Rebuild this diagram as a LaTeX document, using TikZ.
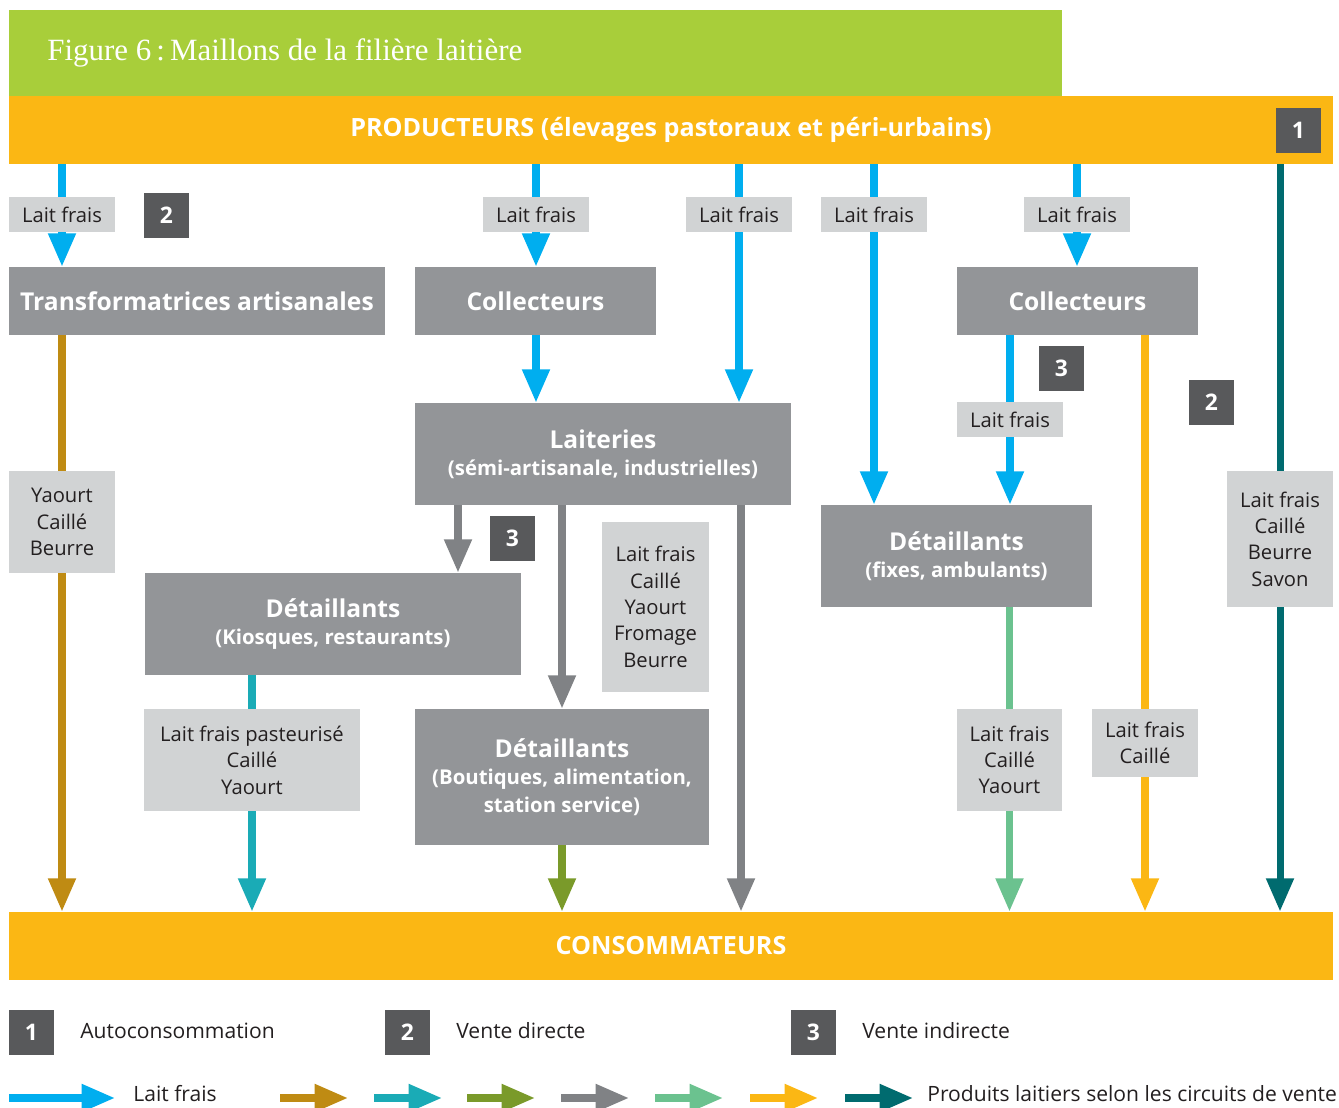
\documentclass[tikz,border=0pt]{standalone}
\usepackage{fontspec}
\setmainfont{Open Sans}
\newfontfamily\serifhead{Liberation Serif}
\usepackage{tikz}
\usetikzlibrary{arrows.meta,backgrounds}

\definecolor{bandgreen}{HTML}{A8CE3A}
\definecolor{bandorange}{HTML}{FBB714}
\definecolor{boxgray}{HTML}{939598}
\definecolor{taggray}{HTML}{D1D3D4}
\definecolor{badgegray}{HTML}{58595B}
\definecolor{inkdark}{HTML}{231F20}
\definecolor{milkblue}{HTML}{00AEEF}
\definecolor{ochre}{HTML}{BF8B13}
\definecolor{lightteal}{HTML}{1AABB6}
\definecolor{olivegreen}{HTML}{7A9A2A}
\definecolor{arrowgray}{HTML}{808285}
\definecolor{mint}{HTML}{6BC28F}
\definecolor{darkteal}{HTML}{006B6F}

\newcommand{\subline}[1]{{\fontsize{11.6}{15}\selectfont #1}}

\begin{document}
\begin{tikzpicture}[x=0.02cm,y=-0.02cm,
  bar/.style={fill=bandorange, text=white, font=\bfseries\fontsize{14.3}{16}\selectfont,
    minimum width=26.48cm, minimum height=1.36cm, inner sep=0pt},
  actor/.style={fill=boxgray, text=white, font=\bfseries\fontsize{14}{15.5}\selectfont,
    align=center, inner sep=0pt, minimum height=1.36cm},
  tag/.style={fill=taggray, text=inkdark, font=\fontsize{11.5}{15}\selectfont,
    align=center, inner sep=0pt, minimum width=2.12cm, minimum height=0.7cm},
  badge/.style={fill=badgegray, text=white, font=\bfseries\fontsize{13}{13}\selectfont,
    minimum size=0.9cm, inner sep=0pt},
  legend/.style={anchor=west, text=inkdark, font=\fontsize{12}{14}\selectfont, inner sep=0pt},
  flow/.style={draw=#1, line width=4pt, -{Triangle[length=19pt,width=15pt]}}]
\useasboundingbox (0,0) rectangle (1339,1108);

% bandeaux
\node[fill=bandgreen, anchor=north west, minimum width=21.06cm, minimum height=1.72cm,
  inner sep=0pt] (band) at (9,10) {};
\node[anchor=west, text=white, font=\serifhead\fontsize{17.6}{20}\selectfont, inner sep=0pt]
  (title) at (47,53) {Figure 6\,:\,Maillons de la filière laitière};
\node[bar] (prod) at (671,130) {PRODUCTEURS (élevages pastoraux et péri-urbains)};
\node[bar] (cons) at (671,946) {CONSOMMATEURS};

% maillons
\node[actor, minimum width=7.52cm] (trans) at (197,301) {Transformatrices artisanales};
\node[actor, minimum width=4.82cm] (coll1) at (535.5,301) {Collecteurs};
\node[actor, minimum width=4.82cm] (coll2) at (1077.5,301) {Collecteurs};
\node[actor, minimum width=7.52cm, minimum height=2.04cm] (lait) at (603,454)
  {Laiteries\\\subline{(sémi-artisanale, industrielles)}};
\node[actor, minimum width=7.52cm, minimum height=2.04cm] (detK) at (333,624)
  {Détaillants\\\subline{(Kiosques, restaurants)}};
\node[actor, minimum width=5.88cm, minimum height=2.72cm] (detB) at (562,777)
  {Détaillants\\\subline{(Boutiques, alimentation,}\\\subline{station service)}};
\node[actor, minimum width=5.42cm, minimum height=2.04cm] (detF) at (956.5,556)
  {Détaillants\\\subline{(fixes, ambulants)}};

% produits
\node[tag] (l1) at (62,214.5) {Lait frais};
\node[tag] (l2) at (536,214.5) {Lait frais};
\node[tag] (l3) at (739,214.5) {Lait frais};
\node[tag] (l4) at (874,214.5) {Lait frais};
\node[tag] (l5) at (1077,214.5) {Lait frais};
\node[tag] (l6) at (1010,419.5) {Lait frais};
\node[tag, minimum height=2.04cm] (p1) at (62,522) {Yaourt\\Caillé\\Beurre};
\node[tag, minimum width=4.32cm, minimum height=2.04cm] (p2) at (252,760)
  {Lait frais pasteurisé\\Caillé\\Yaourt};
\node[tag, minimum width=2.14cm, minimum height=3.4cm] (p3) at (655.5,607)
  {Lait frais\\Caillé\\Yaourt\\Fromage\\Beurre};
\node[tag, minimum width=2.1cm, minimum height=2.04cm] (p4) at (1009.5,760)
  {Lait frais\\Caillé\\Yaourt};
\node[tag, minimum height=1.36cm] (p5) at (1145,743) {Lait frais\\Caillé};
\node[tag, minimum height=2.72cm] (p6) at (1280,539) {Lait frais\\Caillé\\Beurre\\Savon};

% circuits
\node[badge] (c1) at (1298.5,130.5) {1};
\node[badge] (c2a) at (166.5,215.5) {2};
\node[badge] (c2b) at (1211.5,402.5) {2};
\node[badge] (c3a) at (512.5,538.5) {3};
\node[badge] (c3b) at (1061.5,368.5) {3};

\coordinate (gk) at (458,540);
\coordinate (gc) at (741,540);

\begin{pgfonlayer}{background}
\draw[flow=milkblue] (prod.south -| l1) -- (trans.north -| l1);
\draw[flow=milkblue] (prod.south -| l2) -- (coll1.north -| l2);
\draw[flow=milkblue] (coll1.south -| l2) -- (lait.north -| l2);
\draw[flow=milkblue] (prod.south -| l3) -- (lait.north -| l3);
\draw[flow=milkblue] (prod.south -| l4) -- (detF.north -| l4);
\draw[flow=milkblue] (prod.south -| l5) -- (coll2.north -| l5);
\draw[flow=milkblue] (coll2.south -| l6) -- (detF.north -| l6);
\draw[flow=darkteal] (prod.south -| p6) -- (cons.north -| p6);
\draw[flow=ochre] (trans.south -| p1) -- (cons.north -| p1);
\draw[flow=arrowgray] (lait.south -| gk) -- (detK.north -| gk);
\draw[flow=arrowgray] (lait.south -| detB) -- (detB.north);
\draw[flow=arrowgray] (lait.south -| gc) -- (cons.north -| gc);
\draw[flow=lightteal] (detK.south -| p2) -- (cons.north -| p2);
\draw[flow=olivegreen] (detB.south) -- (cons.north -| detB);
\draw[flow=mint] (detF.south -| p4) -- (cons.north -| p4);
\draw[flow=bandorange] (coll2.south -| p5) -- (cons.north -| p5);
\end{pgfonlayer}

% légende
\node[badge] (k1) at (31.5,1032.5) {1};
\node[legend] (t1) at (80,1031) {Autoconsommation};
\node[badge] (k2) at (407.5,1032.5) {2};
\node[legend] (t2) at (456,1031) {Vente directe};
\node[badge] (k3) at (813.5,1032.5) {3};
\node[legend] (t3) at (862,1031) {Vente indirecte};
\draw[flow=milkblue] (9,1098) -- (115,1098);
\node[legend] (t4) at (133,1094) {Lait frais};
\foreach \c/\xa in {ochre/280, lightteal/374, olivegreen/467, arrowgray/561,
  mint/655, bandorange/750, darkteal/845}
  \draw[flow=\c] (\xa,1098) -- (\xa+68,1098);
\node[legend] (t5) at (927,1094) {Produits laitiers selon les circuits de vente};
\end{tikzpicture}
\end{document}
